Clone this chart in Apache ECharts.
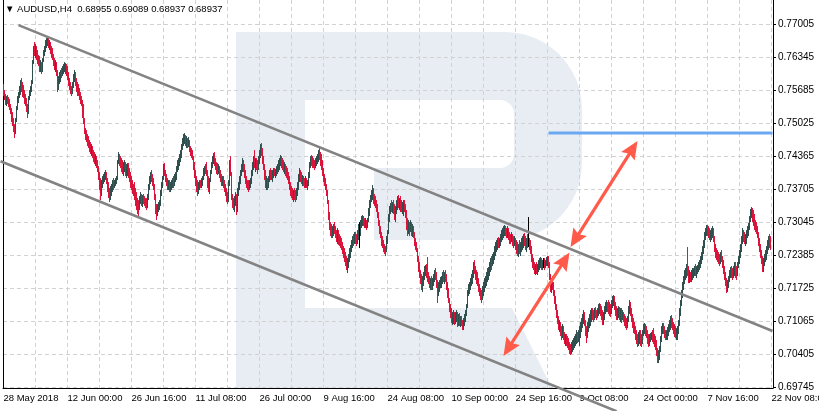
<!DOCTYPE html>
<html><head><meta charset="utf-8">
<script src="https://cdn.jsdelivr.net/npm/echarts@6/dist/echarts.min.js"></script>
<style>html,body{margin:0;padding:0;background:#fff}#c{width:819px;height:411px}</style>
</head><body><div id="c"></div>
<script>
// AUDUSD H4, 28 May 2018 - 22 Nov 2018. Prices in pips (price x 10000), open = previous close.
const tickLabels = ['28 May 2018','12 Jun 00:00','26 Jun 16:00','11 Jul 08:00','26 Jul 00:00','9 Aug 16:00','24 Aug 08:00','10 Sep 00:00','24 Sep 16:00','9 Oct 08:00','24 Oct 00:00','7 Nov 16:00','22 Nov 08:00'];
const priceTicks = [0.69745,0.70405,0.71065,0.71725,0.72385,0.73045,0.73705,0.74365,0.75025,0.75685,0.76345,0.77005];
const titleText = '\u25BC AUDUSD,H4  0.68955 0.69089 0.68937 0.68937';
const firstOpen = 7581;
const closes = [
7561,7555,7543,7551,7547,7541,7533,7525,7513,7505,7493,7481,7509,7533,7551,7559,7569,7581,7573,7565,7559,7549,7543,7533,7525,7553,7565,7573,7585,7625,7649,7645,
7653,7637,7629,7625,7613,7621,7609,7629,7645,7653,7661,7665,7669,7661,7665,7649,7645,7635,7625,7617,7621,7605,7573,7589,7597,7605,7601,7609,7613,7617,7619,7605,
7597,7585,7577,7569,7565,7581,7593,7601,7585,7573,7569,7561,7557,7549,7545,7525,7509,7489,7481,7473,7469,7461,7457,7449,7453,7441,7437,7429,7433,7421,7413,7397,
7381,7369,7381,7389,7395,7399,7403,7389,7377,7361,7357,7365,7369,7381,7377,7385,7389,7393,7425,7437,7429,7421,7417,7409,7413,7417,7405,7409,7413,7405,7393,7381,
7377,7369,7365,7357,7349,7341,7333,7329,7353,7357,7349,7353,7349,7345,7341,7337,7353,7373,7389,7397,7393,7385,7373,7357,7329,7321,7333,7337,7341,7361,7377,7389,
7413,7405,7397,7385,7377,7381,7373,7377,7381,7385,7381,7393,7397,7413,7421,7429,7433,7441,7457,7469,7473,7477,7465,7469,7461,7465,7453,7445,7441,7435,7417,7401,
7389,7377,7369,7373,7381,7377,7385,7393,7405,7413,7409,7401,7381,7373,7389,7405,7421,7433,7437,7425,7417,7413,7409,7413,7401,7393,7385,7389,7381,7373,7365,7353,
7349,7381,7421,7405,7357,7341,7337,7349,7353,7329,7365,7377,7389,7405,7413,7425,7413,7401,7389,7381,7377,7373,7381,7385,7401,7417,7429,7421,7425,7417,7413,7429,
7445,7453,7445,7429,7417,7397,7381,7385,7381,7389,7401,7397,7393,7401,7405,7401,7405,7409,7417,7421,7429,7433,7425,7421,7413,7417,7409,7401,7397,7389,7377,7365,
7361,7357,7361,7357,7353,7365,7377,7393,7405,7397,7389,7393,7385,7381,7389,7381,7385,7397,7417,7433,7429,7425,7421,7417,7425,7429,7437,7445,7437,7429,7417,7405,
7393,7385,7377,7365,7349,7317,7297,7289,7285,7289,7293,7289,7281,7277,7281,7273,7269,7261,7257,7249,7241,7233,7225,7217,7225,7233,7245,7253,7261,7269,7265,7277,
7273,7269,7281,7289,7289,7301,7309,7313,7305,7301,7305,7297,7309,7325,7341,7353,7361,7369,7357,7349,7341,7337,7321,7305,7289,7281,7269,7261,7257,7249,7245,7269,
7285,7313,7329,7337,7333,7337,7329,7321,7329,7341,7349,7341,7345,7337,7333,7337,7341,7333,7325,7297,7289,7297,7293,7297,7285,7289,7281,7265,7257,7249,7233,7217,
7201,7189,7177,7185,7197,7209,7213,7201,7193,7189,7181,7185,7177,7181,7193,7201,7197,7181,7169,7177,7181,7185,7189,7197,7193,7201,7197,7177,7161,7149,7133,7121,
7113,7117,7121,7113,7117,7121,7105,7113,7105,7109,7101,7097,7105,7117,7125,7137,7165,7173,7177,7185,7193,7201,7217,7209,7197,7193,7185,7173,7165,7157,7153,7165,
7177,7185,7189,7197,7205,7209,7217,7225,7221,7233,7237,7249,7257,7261,7265,7261,7269,7273,7281,7285,7289,7293,7285,7281,7289,7277,7273,7269,7277,7269,7265,7269,
7257,7249,7245,7253,7249,7257,7265,7269,7273,7265,7257,7269,7261,7261,7257,7249,7233,7221,7217,7209,7213,7205,7217,7221,7225,7229,7217,7225,7225,7217,7225,7229,
7233,7221,7197,7177,7185,7181,7165,7149,7137,7121,7109,7097,7101,7089,7085,7093,7077,7069,7073,7065,7061,7057,7053,7049,7057,7061,7065,7069,7073,7081,7069,7081,
7089,7097,7105,7113,7121,7105,7085,7077,7093,7105,7113,7121,7125,7121,7117,7125,7121,7117,7125,7133,7137,7129,7117,7109,7113,7129,7137,7141,7137,7133,7129,7125,
7141,7149,7153,7137,7129,7117,7125,7129,7121,7125,7113,7117,7113,7109,7101,7097,7109,7129,7141,7129,7113,7101,7093,7089,7081,7069,7065,7073,7077,7069,7065,7081,
7093,7097,7089,7085,7069,7061,7073,7077,7081,7073,7065,7061,7057,7045,7033,7037,7049,7069,7089,7097,7089,7081,7077,7085,7089,7097,7105,7113,7109,7101,7093,7085,
7081,7085,7089,7105,7125,7141,7161,7177,7189,7201,7205,7209,7205,7193,7197,7193,7201,7205,7209,7213,7205,7209,7213,7217,7225,7229,7237,7249,7261,7277,7285,7293,
7289,7281,7277,7281,7285,7289,7273,7253,7241,7237,7233,7229,7225,7237,7233,7221,7209,7197,7185,7173,7181,7193,7205,7209,7201,7197,7209,7213,7201,7197,7217,7233,
7241,7253,7269,7285,7277,7269,7273,7277,7289,7297,7309,7325,7329,7321,7309,7301,7297,7289,7281,7269,7253,7241,7229,7217,7225,7233,7241,7249,7261,7269,7265,7261
];
const highs = [
7581,7569,7561,7557,7559,7555,7551,7541,7533,7525,7513,7501,7513,7537,7557,7565,7577,7589,7593,7585,7579,7569,7561,7553,7541,7557,7569,7577,7589,7629,7657,7665,
7661,7657,7649,7639,7637,7629,7625,7633,7649,7657,7669,7673,7677,7675,7669,7665,7657,7653,7641,7633,7629,7625,7609,7597,7605,7609,7613,7617,7621,7625,7623,7621,
7617,7605,7593,7585,7577,7585,7601,7609,7605,7593,7585,7581,7573,7565,7557,7549,7541,7513,7493,7489,7481,7477,7469,7465,7461,7457,7449,7445,7441,7437,7429,7417,
7405,7393,7389,7397,7401,7405,7409,7405,7393,7385,7373,7377,7381,7389,7393,7389,7393,7397,7429,7445,7441,7437,7433,7429,7425,7429,7425,7421,7423,7423,7413,7405,
7397,7389,7381,7385,7373,7365,7353,7349,7357,7365,7361,7359,7361,7357,7353,7353,7361,7381,7397,7405,7409,7401,7393,7381,7361,7341,7341,7345,7349,7369,7385,7397,
7421,7423,7409,7401,7393,7389,7389,7385,7389,7393,7397,7401,7405,7417,7429,7433,7441,7449,7461,7473,7481,7483,7479,7477,7473,7475,7469,7457,7453,7449,7437,7425,
7409,7397,7389,7385,7389,7389,7393,7397,7413,7417,7421,7425,7409,7397,7393,7409,7425,7437,7443,7445,7433,7425,7423,7421,7417,7409,7401,7397,7397,7389,7381,7373,
7365,7389,7429,7437,7405,7361,7353,7357,7365,7361,7373,7385,7397,7409,7421,7433,7429,7421,7409,7397,7389,7389,7389,7393,7409,7425,7437,7449,7433,7433,7429,7437,
7449,7461,7463,7453,7437,7421,7409,7397,7393,7397,7409,7413,7409,7409,7413,7413,7411,7417,7421,7429,7433,7439,7437,7433,7429,7425,7421,7417,7413,7405,7397,7385,
7377,7373,7369,7373,7369,7373,7385,7401,7413,7409,7405,7399,7397,7393,7397,7393,7389,7405,7425,7437,7439,7437,7433,7429,7433,7437,7441,7449,7453,7445,7441,7429,
7413,7401,7393,7381,7369,7349,7325,7305,7301,7297,7301,7305,7297,7289,7293,7289,7281,7277,7273,7265,7257,7253,7245,7237,7233,7241,7253,7259,7269,7277,7281,7285,
7285,7281,7289,7301,7305,7309,7317,7319,7317,7313,7313,7309,7313,7333,7349,7359,7369,7379,7373,7361,7357,7349,7341,7325,7309,7297,7285,7277,7269,7261,7257,7277,
7289,7321,7337,7343,7349,7345,7349,7341,7337,7349,7357,7359,7353,7357,7349,7345,7349,7349,7341,7329,7313,7309,7305,7309,7305,7301,7297,7285,7273,7265,7253,7237,
7225,7209,7201,7197,7205,7217,7219,7221,7235,7205,7197,7193,7197,7193,7201,7209,7213,7205,7189,7185,7189,7195,7197,7205,7209,7205,7209,7201,7185,7173,7153,7141,
7133,7125,7129,7125,7125,7129,7125,7121,7123,7117,7117,7109,7113,7121,7129,7141,7169,7181,7185,7193,7201,7209,7225,7229,7217,7209,7205,7193,7181,7173,7169,7177,
7185,7193,7197,7205,7213,7215,7225,7233,7237,7241,7245,7257,7265,7269,7273,7275,7273,7281,7289,7293,7297,7299,7297,7293,7297,7293,7285,7281,7285,7281,7277,7277,
7273,7269,7265,7261,7269,7265,7273,7277,7281,7283,7277,7273,7281,7315,7273,7269,7257,7241,7233,7225,7221,7225,7221,7229,7233,7235,7233,7229,7233,7233,7229,7235,
7237,7237,7225,7201,7193,7197,7185,7169,7157,7141,7129,7117,7109,7105,7097,7101,7097,7085,7081,7081,7077,7073,7065,7061,7065,7069,7073,7077,7081,7089,7085,7089,
7097,7105,7113,7121,7129,7125,7109,7097,7105,7113,7121,7129,7133,7133,7129,7133,7135,7129,7133,7141,7143,7141,7137,7129,7125,7137,7145,7149,7145,7149,7145,7141,
7149,7157,7159,7157,7145,7137,7133,7137,7135,7133,7133,7129,7125,7121,7117,7113,7117,7137,7149,7145,7133,7121,7113,7105,7097,7089,7081,7085,7089,7089,7081,7089,
7101,7103,7101,7097,7089,7081,7081,7083,7085,7089,7093,7081,7077,7069,7053,7049,7057,7077,7097,7103,7103,7097,7089,7089,7095,7101,7109,7117,7119,7113,7105,7101,
7097,7093,7097,7109,7133,7149,7169,7185,7197,7209,7213,7221,7255,7217,7209,7205,7209,7213,7213,7217,7221,7217,7219,7225,7229,7237,7245,7257,7269,7285,7293,7299,
7299,7297,7293,7289,7293,7297,7293,7277,7261,7253,7249,7245,7241,7245,7249,7237,7229,7217,7205,7193,7189,7197,7209,7215,7217,7213,7217,7225,7225,7217,7225,7237,
7249,7261,7277,7293,7289,7285,7281,7289,7297,7303,7317,7331,7335,7333,7329,7321,7309,7305,7297,7285,7273,7261,7249,7237,7233,7241,7249,7257,7269,7277,7281,7277
];
const lows = [
7557,7549,7539,7537,7541,7535,7529,7521,7505,7497,7485,7473,7481,7505,7529,7543,7553,7559,7565,7555,7553,7541,7537,7525,7513,7521,7549,7557,7565,7581,7621,7637,
7633,7629,7621,7617,7605,7605,7601,7605,7625,7637,7645,7653,7657,7653,7649,7641,7633,7629,7617,7609,7605,7597,7565,7569,7581,7585,7593,7597,7601,7605,7601,7597,
7589,7577,7569,7561,7557,7561,7573,7585,7577,7565,7557,7557,7549,7541,7537,7513,7501,7481,7469,7465,7457,7453,7445,7441,7437,7433,7425,7421,7417,7413,7405,7389,
7369,7349,7357,7373,7381,7385,7389,7381,7365,7353,7345,7349,7357,7365,7369,7373,7377,7381,7389,7421,7417,7413,7405,7401,7397,7405,7397,7393,7397,7393,7385,7373,
7369,7361,7357,7349,7337,7329,7321,7317,7329,7341,7337,7335,7341,7337,7333,7329,7333,7349,7369,7381,7385,7377,7369,7349,7321,7309,7317,7325,7329,7337,7357,7373,
7389,7397,7385,7377,7369,7369,7365,7365,7369,7373,7373,7377,7385,7389,7405,7409,7417,7425,7433,7449,7457,7461,7457,7453,7453,7455,7445,7437,7433,7429,7409,7393,
7377,7365,7357,7361,7369,7373,7373,7377,7389,7397,7401,7397,7373,7365,7361,7385,7401,7413,7421,7417,7409,7401,7399,7401,7393,7385,7377,7377,7373,7365,7357,7345,
7341,7345,7377,7397,7349,7333,7329,7325,7337,7319,7325,7357,7369,7381,7397,7405,7405,7393,7381,7373,7369,7365,7369,7373,7381,7397,7409,7413,7405,7409,7401,7409,
7421,7433,7437,7421,7409,7389,7373,7369,7369,7373,7385,7389,7389,7385,7393,7397,7393,7397,7401,7405,7409,7417,7413,7409,7405,7401,7397,7393,7389,7381,7369,7357,
7353,7349,7345,7349,7345,7349,7357,7369,7385,7385,7381,7377,7377,7373,7373,7373,7369,7377,7393,7413,7417,7413,7413,7409,7413,7417,7421,7425,7429,7417,7409,7397,
7385,7377,7369,7357,7341,7309,7289,7277,7273,7273,7277,7281,7273,7265,7261,7259,7257,7253,7249,7241,7233,7225,7217,7209,7203,7213,7225,7233,7245,7253,7257,7261,
7261,7257,7261,7269,7253,7277,7293,7297,7297,7293,7293,7289,7293,7305,7317,7333,7345,7349,7341,7337,7333,7325,7313,7297,7281,7273,7257,7253,7245,7241,7237,7249,
7261,7281,7305,7321,7325,7323,7321,7309,7305,7321,7329,7333,7329,7325,7325,7321,7317,7325,7313,7289,7277,7281,7277,7285,7277,7275,7273,7257,7249,7245,7225,7205,
7193,7181,7169,7165,7177,7189,7197,7193,7185,7181,7173,7169,7169,7169,7177,7185,7189,7173,7143,7157,7165,7173,7173,7181,7185,7181,7185,7169,7153,7143,7125,7113,
7103,7099,7101,7099,7101,7105,7095,7097,7097,7095,7097,7089,7089,7097,7105,7117,7133,7157,7161,7169,7177,7181,7193,7201,7189,7181,7177,7165,7157,7149,7143,7149,
7157,7165,7173,7177,7185,7189,7197,7205,7209,7217,7221,7229,7237,7245,7249,7253,7253,7257,7265,7269,7273,7277,7277,7273,7273,7269,7261,7261,7265,7257,7253,7257,
7249,7241,7237,7235,7241,7237,7245,7249,7253,7257,7249,7245,7253,7255,7249,7241,7225,7213,7209,7201,7199,7201,7199,7205,7209,7213,7209,7209,7213,7209,7213,7217,
7217,7213,7189,7165,7163,7169,7157,7141,7129,7113,7101,7089,7085,7077,7069,7073,7069,7061,7057,7057,7053,7049,7041,7039,7041,7045,7049,7053,7057,7061,7063,7065,
7057,7073,7085,7093,7101,7097,7077,7063,7073,7085,7093,7097,7105,7109,7105,7109,7113,7109,7113,7117,7121,7117,7109,7099,7099,7109,7121,7125,7125,7121,7117,7115,
7121,7133,7137,7129,7117,7109,7109,7113,7109,7105,7103,7109,7105,7097,7093,7089,7093,7105,7121,7117,7105,7093,7083,7081,7069,7061,7055,7057,7061,7057,7055,7061,
7077,7081,7077,7073,7061,7055,7057,7065,7069,7065,7061,7055,7049,7037,7023,7023,7029,7045,7065,7081,7081,7073,7069,7069,7069,7077,7085,7089,7093,7089,7081,7075,
7073,7069,7069,7081,7097,7117,7137,7153,7169,7181,7189,7193,7197,7183,7183,7185,7185,7189,7193,7197,7197,7193,7201,7205,7209,7213,7221,7229,7241,7253,7269,7277,
7277,7273,7269,7265,7269,7273,7265,7245,7233,7229,7225,7221,7217,7221,7225,7213,7201,7189,7177,7163,7165,7173,7185,7193,7193,7189,7193,7197,7193,7189,7197,7213,
7221,7233,7245,7261,7265,7261,7257,7261,7273,7277,7289,7305,7313,7305,7297,7289,7285,7281,7273,7257,7245,7233,7221,7205,7205,7217,7225,7229,7241,7249,7253,7249
];
// Drawn objects, as [bar index, price]
const upperChannel = [[15, 0.76989], [769, 0.70870]];
const lowerChannel = [[-3, 0.74267], [613, 0.69267]];
const resistanceLine = [[545, 0.74831], [769, 0.74831]];
const arrowA = [[634, 0.74671], [567, 0.72551]];
const arrowB = [[566, 0.72441], [500, 0.70371]];

const FONT = 'Liberation Sans, Arial, sans-serif';
const BULL = '#2F4F4F', BEAR = '#DC143C';
const N_SLOTS = 770;

const cats = [];
for (let i = 0; i < N_SLOTS; i++) cats.push(String(i));
const n = Math.min(closes.length, highs.length, lows.length);
const ohlc = [];
for (let i = 0; i < n; i++) {
  const o = (i === 0 ? firstOpen : closes[i - 1]) / 1e4;
  const c = closes[i] / 1e4;
  const h = Math.max(highs[i] / 1e4, o, c);
  const l = Math.min(lows[i] / 1e4, o, c);
  ohlc.push([o, c, l, h]);
}

const chart = echarts.init(document.getElementById('c'), null, {renderer: 'canvas'});
const gridLine = {color: '#d2d2d2', width: 1, type: [4, 3]};
chart.setOption({
  animation: false,
  backgroundColor: '#ffffff',
  grid: {left: 3, top: 0, width: 770, height: 388, outerBoundsMode: 'none', containLabel: false},
  xAxis: {
    type: 'category', data: cats, boundaryGap: true,
    axisLine: {onZero: false, lineStyle: {color: '#000', width: 1}},
    axisTick: {interval: 63, alignWithLabel: true, length: 4, lineStyle: {color: '#000'}},
    axisLabel: {interval: 63, align: 'left', margin: 5, color: '#000', fontFamily: FONT, fontSize: 9.5,
      hideOverlap: false, formatter: (v, i) => tickLabels[i / 64] || ''},
    splitLine: {show: true, interval: 31, lineStyle: gridLine}
  },
  yAxis: [{
    type: 'value', position: 'right', min: 0.69731, max: 0.77491,
    axisLine: {show: true, onZero: false, lineStyle: {color: '#000', width: 1}},
    axisTick: {show: true, customValues: priceTicks, length: 3, lineStyle: {color: '#000'}},
    axisLabel: {customValues: priceTicks, margin: 5, color: '#000', fontFamily: FONT, fontSize: 10,
      formatter: v => v.toFixed(5)},
    splitLine: {show: true, lineStyle: gridLine}
  }, {
    type: 'value', position: 'left', min: 0.69731, max: 0.77491,
    axisLine: {show: true, onZero: false, lineStyle: {color: '#000', width: 1}},
    axisTick: {show: false}, axisLabel: {show: false}, splitLine: {show: false}
  }],
  series: [{
    type: 'candlestick', data: ohlc, large: false, barWidth: 0, silent: true,
    itemStyle: {color: BULL, color0: BEAR, borderColor: BULL, borderColor0: BEAR, borderColorDoji: '#000', borderWidth: 1}
  }]
});

const P = p => chart.convertToPixel({gridIndex: 0}, p);
function lineEl(a, b, color, w, z) {
  const p1 = P(a), p2 = P(b);
  return {type: 'line', z: z, silent: true, shape: {x1: p1[0], y1: p1[1], x2: p2[0], y2: p2[1]},
    style: {stroke: color, lineWidth: w}};
}
function arrowEls(a, b, color) {
  const p1 = P(a), p2 = P(b);
  const dx = p2[0] - p1[0], dy = p2[1] - p1[1], len = Math.hypot(dx, dy);
  const ux = dx / len, uy = dy / len, nx = -uy, ny = ux;
  const L = 18, W = 8;
  const head = (t, s) => ({type: 'polygon', z: 60, silent: true,
    shape: {points: [[t[0], t[1]], [t[0] - s * ux * L + nx * W, t[1] - s * uy * L + ny * W],
      [t[0] - s * ux * (L - 3), t[1] - s * uy * (L - 3)],
      [t[0] - s * ux * L - nx * W, t[1] - s * uy * L - ny * W]]},
    style: {fill: color}});
  return [
    {type: 'line', z: 59, silent: true,
      shape: {x1: p1[0] + ux * (L - 4), y1: p1[1] + uy * (L - 4), x2: p2[0] - ux * (L - 4), y2: p2[1] - uy * (L - 4)},
      style: {stroke: color, lineWidth: 3.2}},
    head(p1, -1), head(p2, 1)
  ];
}
// watermark logo (decoration), pixel outline
function arc(cx, cy, r, a0, a1) {
  const pts = [];
  for (let k = 0; k <= 12; k++) {
    const a = (a0 + (a1 - a0) * k / 12) * Math.PI / 180;
    pts.push([cx + r * Math.cos(a), cy + r * Math.sin(a)]);
  }
  return pts;
}
const WM = '#E8EDF4';
const stem = [[236, 32], [305, 32], [305, 388], [236, 388]];
const bowl = [[236, 32], ...arc(505, 109, 77, -90, 0), ...arc(505, 163, 77, 0, 90), [374, 240], [374, 168],
  ...arc(500, 154, 14, 90, 0), ...arc(500, 114, 14, 0, -90), [236, 100]];
const leg = [[305, 308], [512, 308], [552, 388], [305, 388]];
const elements = [
  {type: 'polygon', z: -5, silent: true, shape: {points: stem}, style: {fill: WM}},
  {type: 'polygon', z: -5, silent: true, shape: {points: bowl}, style: {fill: WM}},
  {type: 'polygon', z: -5, silent: true, shape: {points: leg}, style: {fill: WM}},
  lineEl(upperChannel[0], upperChannel[1], '#838383', 2.6, 50),
  lineEl(lowerChannel[0], lowerChannel[1], '#838383', 2.6, 50),
  lineEl(resistanceLine[0], resistanceLine[1], '#6AA9F2', 3.2, 50),
  ...arrowEls(arrowA[0], arrowA[1], '#FF5A4A'),
  ...arrowEls(arrowB[0], arrowB[1], '#FF5A4A'),
  {type: 'text', z: 70, silent: true, x: 5, y: 4,
    style: {text: titleText, fill: '#000', font: '9.5px ' + FONT, verticalAlign: 'top'}}
];
chart.setOption({graphic: {elements: elements}});
</script>
</body></html>
